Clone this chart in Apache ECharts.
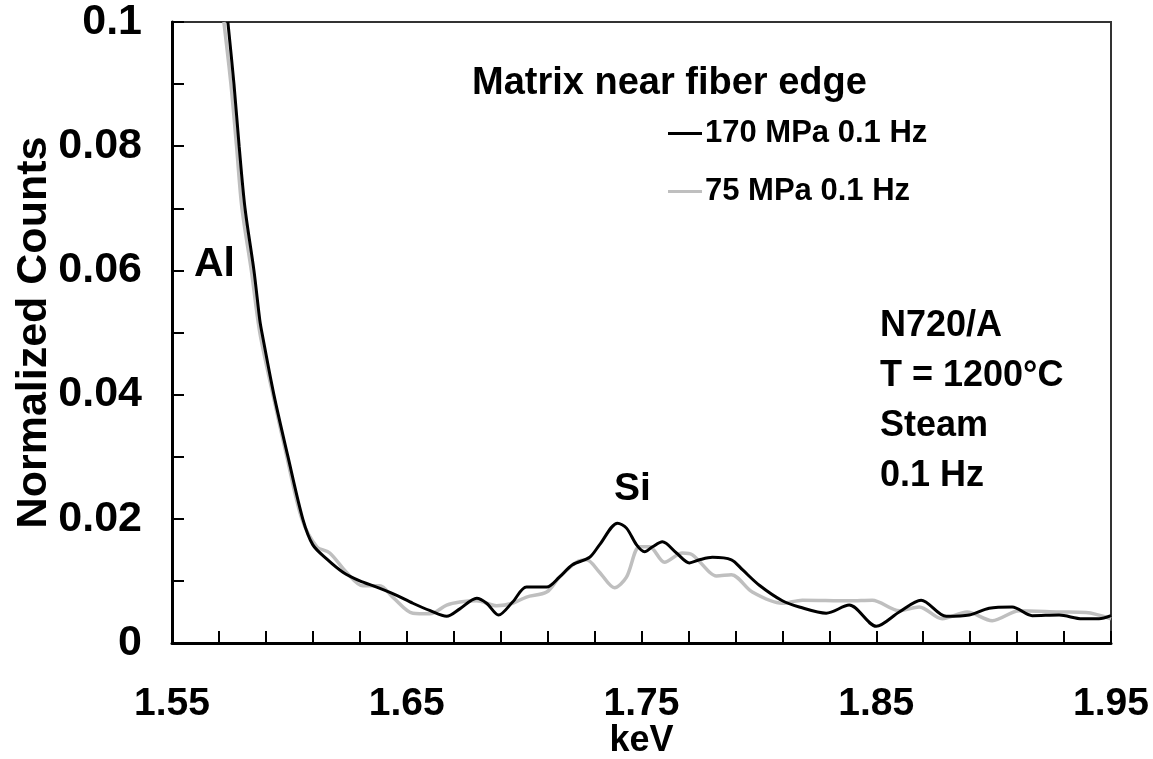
<!DOCTYPE html>
<html>
<head>
<meta charset="utf-8">
<title>Matrix near fiber edge</title>
<script src="https://cdn.jsdelivr.net/npm/echarts@6/dist/echarts.min.js"></script>
<style>
  html, body { margin: 0; padding: 0; background: #fff; }
  #chart { width: 1153px; height: 759px; }
</style>
</head>
<body>
<div id="chart"></div>
<script>
// 170 MPa 0.1 Hz (black)
var keV170 = [1.5738, 1.5764, 1.5786, 1.5811, 1.5849, 1.5874, 1.5883, 1.5934, 1.5994, 1.6057,
  1.6100, 1.6160, 1.6228, 1.6300, 1.6372, 1.6450, 1.6526, 1.6600, 1.6670, 1.6726,
  1.6798, 1.6840, 1.6891, 1.6951, 1.7010, 1.7096, 1.7150, 1.7206, 1.7279, 1.7321,
  1.7398, 1.7436, 1.7479, 1.7513, 1.7547, 1.7589, 1.7649, 1.7704, 1.7747, 1.7802,
  1.7883, 1.7930, 1.8002, 1.8100, 1.8172, 1.8287, 1.8385, 1.8500, 1.8598, 1.8691,
  1.8798, 1.8896, 1.8981, 1.9079, 1.9164, 1.9279, 1.9377, 1.9449, 1.9500]
var counts170 = [0.100, 0.090, 0.080, 0.070, 0.060, 0.052, 0.050, 0.040, 0.030, 0.020,
  0.0158, 0.0135, 0.0114, 0.0100, 0.0090, 0.0078, 0.0064, 0.0052, 0.0043, 0.0055,
  0.0072, 0.0064, 0.0045, 0.0066, 0.0090, 0.0090, 0.0106, 0.0126, 0.0138, 0.0158,
  0.0193, 0.0185, 0.0158, 0.0147, 0.0155, 0.0163, 0.0145, 0.0129, 0.0134, 0.0138,
  0.0134, 0.0118, 0.0093, 0.0068, 0.0058, 0.0048, 0.0061, 0.0027, 0.0050, 0.0069,
  0.0043, 0.0045, 0.0056, 0.0058, 0.0044, 0.0045, 0.0039, 0.0039, 0.0044]

// 75 MPa 0.1 Hz (grey)
var keV75 = [1.5721, 1.5751, 1.5775, 1.5798, 1.5838, 1.5874, 1.5930, 1.5989, 1.6053, 1.6117,
  1.6172, 1.6245, 1.6313, 1.6385, 1.6440, 1.6526, 1.6600, 1.6670, 1.6726, 1.6798,
  1.6883, 1.6951, 1.7010, 1.7096, 1.7150, 1.7223, 1.7266, 1.7321, 1.7385, 1.7436,
  1.7491, 1.7534, 1.7598, 1.7674, 1.7717, 1.7790, 1.7819, 1.7883, 1.7972, 1.8100,
  1.8185, 1.8385, 1.8483, 1.8598, 1.8683, 1.8781, 1.8887, 1.8994, 1.9109, 1.9279,
  1.9394, 1.9500]
var counts75 = [0.100, 0.090, 0.080, 0.070, 0.060, 0.050, 0.040, 0.030, 0.020, 0.0155,
  0.0145, 0.0113, 0.0092, 0.0092, 0.0074, 0.0048, 0.0047, 0.0061, 0.0066, 0.0068,
  0.0060, 0.0064, 0.0074, 0.0082, 0.0106, 0.0130, 0.0134, 0.0114, 0.0089, 0.0106,
  0.0155, 0.0155, 0.0130, 0.0145, 0.0142, 0.0114, 0.0108, 0.0110, 0.0082, 0.0064,
  0.0069, 0.0068, 0.0069, 0.0052, 0.0058, 0.0039, 0.0050, 0.0036, 0.0052, 0.0050,
  0.0049, 0.0039]

var seriesNames = ['170 MPa 0.1 Hz', '75 MPa 0.1 Hz']
var notes = ['N720/A', 'T = 1200°C', 'Steam', '0.1 Hz']

function pairs(xs, ys) {
  return xs.map(function (x, i) { return [x, ys[i]] })
}

var FONT = '"Liberation Sans", Arial, sans-serif'
var chart = echarts.init(document.getElementById('chart'))

var graphics = notes.map(function (t, i) {
  return {
    type: 'text', left: 880, top: 308 + i * 50,
    style: { text: t, font: 'bold 36px ' + FONT, fill: '#000' }
  }
})
graphics.push({
  type: 'text', left: 194, top: 244,
  style: { text: 'Al', font: 'bold 41px ' + FONT, fill: '#000' }
})
graphics.push({
  type: 'text', left: 614, top: 470,
  style: { text: 'Si', font: 'bold 39px ' + FONT, fill: '#000' }
})

chart.setOption({
  animation: false,
  backgroundColor: '#fff',
  title: {
    text: 'Matrix near fiber edge',
    left: 467,
    top: 60,
    textStyle: { fontFamily: FONT, fontWeight: 'bold', fontSize: 38, color: '#000' }
  },
  legend: {
    data: seriesNames,
    orient: 'vertical',
    left: 663,
    top: 113,
    itemWidth: 34,
    itemHeight: 3,
    itemGap: 27,
    icon: 'rect',
    textStyle: { fontFamily: FONT, fontWeight: 'bold', fontSize: 31, color: '#000', padding: [0, 0, 0, -2] }
  },
  grid: {
    left: 172,
    right: 42,
    top: 22,
    bottom: 116,
    outerBoundsMode: 'none',
    show: true,
    borderColor: '#333',
    borderWidth: 2
  },
  xAxis: {
    type: 'value',
    min: 1.55,
    max: 1.95,
    interval: 0.02,
    name: 'keV',
    nameLocation: 'middle',
    nameMoveOverlap: false,
    nameGap: 80,
    nameTextStyle: { fontFamily: FONT, fontWeight: 'bold', fontSize: 36, color: '#000' },
    axisLine: { lineStyle: { color: '#000', width: 3 } },
    axisTick: { inside: true, length: 12, lineStyle: { color: '#000', width: 2 } },
    splitLine: { show: false },
    axisLabel: {
      margin: 42,
      fontFamily: FONT,
      fontWeight: 'bold',
      fontSize: 39,
      color: '#000',
      formatter: function (v) {
        return Math.round((v - 1.55) * 100) % 10 === 0 ? v.toFixed(2) : ''
      }
    }
  },
  yAxis: {
    type: 'value',
    min: 0,
    max: 0.1,
    interval: 0.01,
    name: 'Normalized Counts',
    nameLocation: 'middle',
    nameRotate: 90,
    nameMoveOverlap: false,
    nameGap: 116,
    nameTextStyle: { fontFamily: FONT, fontWeight: 'bold', fontSize: 43, color: '#000' },
    axisLine: { show: true, lineStyle: { color: '#000', width: 3 } },
    axisTick: { show: true, inside: true, length: 12, lineStyle: { color: '#000', width: 2 } },
    splitLine: { show: false },
    axisLabel: {
      margin: 30,
      fontFamily: FONT,
      fontWeight: 'bold',
      fontSize: 43,
      color: '#000',
      formatter: function (v) {
        return Math.round(v * 100) % 2 === 0 ? String(+v.toFixed(2)) : ''
      }
    }
  },
  series: [
    {
      name: seriesNames[0],
      type: 'line',
      data: pairs(keV170, counts170),
      showSymbol: false,
      smooth: 0.3,
      z: 3,
      itemStyle: { color: '#000' },
      lineStyle: { color: '#000', width: 3 }
    },
    {
      name: seriesNames[1],
      type: 'line',
      data: pairs(keV75, counts75),
      showSymbol: false,
      smooth: 0.3,
      z: 2,
      itemStyle: { color: '#bfbfbf' },
      lineStyle: { color: '#bfbfbf', width: 3.5 }
    }
  ],
  graphic: graphics
})
</script>
</body>
</html>
